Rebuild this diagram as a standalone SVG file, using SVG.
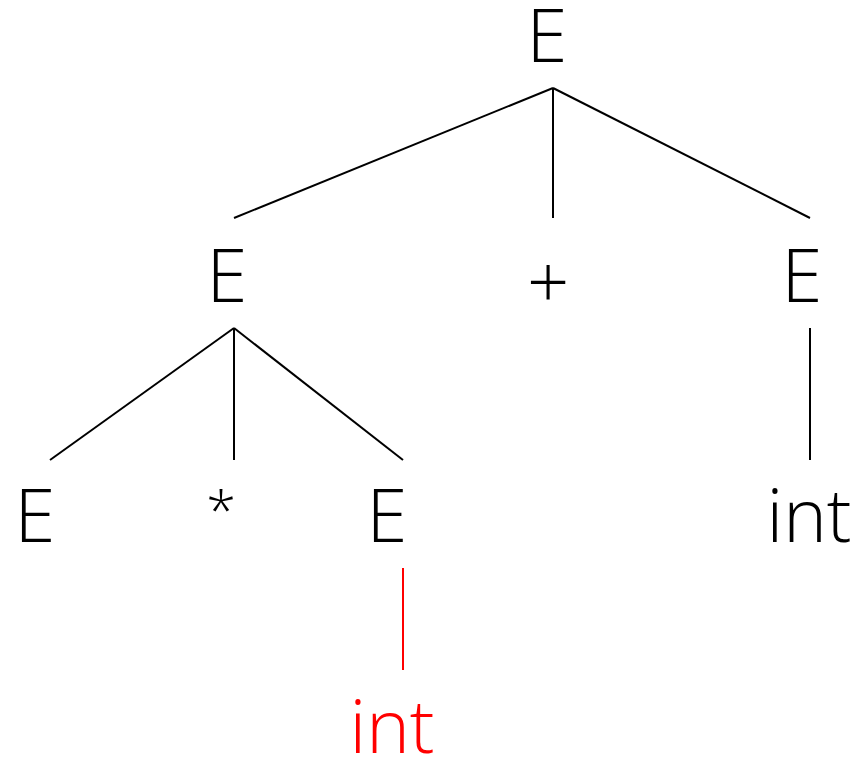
<svg xmlns="http://www.w3.org/2000/svg" width="855" height="757" viewBox="0 0 855 757">
<style>
text{font-family:"Open Sans","Noto Sans","DejaVu Sans",sans-serif;font-weight:300;font-size:74px;fill:#000;text-anchor:middle}
.red{fill:#ff0000}
.star{font-size:54px}
line{stroke:#000;stroke-width:2}
line.red{stroke:#ff0000}
</style>
<rect width="855" height="757" fill="#fff"/>
<g id="connectors">
<line x1="553" y1="88" x2="234" y2="218"/>
<line x1="553" y1="88" x2="553" y2="218"/>
<line x1="553" y1="88" x2="810" y2="218"/>
<line x1="234" y1="328" x2="50" y2="460"/>
<line x1="234" y1="328" x2="234" y2="460"/>
<line x1="234" y1="328" x2="403" y2="460"/>
<line x1="810" y1="328" x2="810" y2="460"/>
<line class="red" x1="403" y1="568" x2="403" y2="670"/>
</g>
<g id="n-root"><text x="547" y="62">E</text></g>
<g id="n-e1"><text x="227" y="302">E</text></g>
<g id="n-plus"><text x="548" y="309">+</text></g>
<g id="n-e2"><text x="802" y="302">E</text></g>
<g id="n-e3"><text x="35" y="542">E</text></g>
<g id="n-star"><text class="star" x="221" y="530">*</text></g>
<g id="n-e4"><text x="387" y="542">E</text></g>
<g id="n-int2"><text x="809" y="542">int</text></g>
<g id="n-int1"><text class="red" x="392" y="753">int</text></g>
</svg>
